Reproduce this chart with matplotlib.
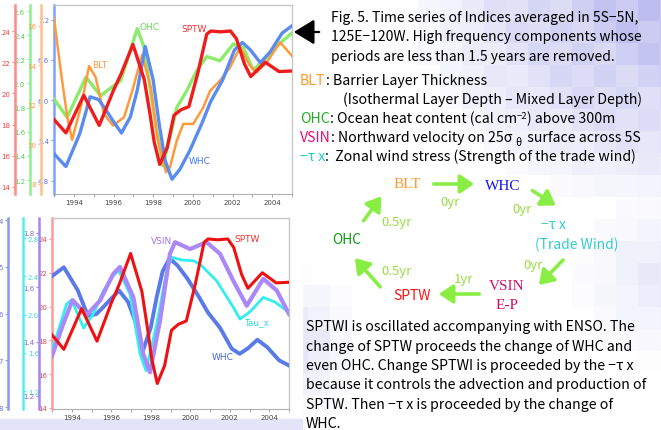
import numpy as np
import matplotlib
matplotlib.use('Agg')
import matplotlib.pyplot as plt
from matplotlib.patches import Rectangle, FancyArrowPatch

# ---------------- data ----------------
years_whc = [1993.0, 1993.6, 1994.3, 1994.82, 1995.25, 1995.6, 1996.0, 1996.4, 1996.85,
             1997.2, 1997.6, 1998.0, 1998.3, 1998.6, 1998.95, 1999.35, 1999.85, 2000.45,
             2000.9, 2001.5, 2002.1, 2002.5, 2002.9, 2003.4, 2003.9, 2004.5, 2005.0]
whc = [5.20, 5.01, 5.50, 6.05, 6.01, 5.86, 5.68, 5.51, 5.75,
       6.15, 6.80, 6.30, 5.65, 5.10, 4.82, 4.97, 5.25, 5.65,
       5.98, 6.30, 6.75, 6.86, 6.75, 6.56, 6.72, 7.00, 7.11]

years_sptw = [1993.0, 1993.6, 1994.5, 1995.28, 1996.0, 1996.4, 1996.98, 1997.55, 1997.85,
              1998.05, 1998.33, 1998.7, 1999.05, 1999.4, 1999.8, 2000.25, 2000.7, 2000.9,
              2001.4, 2001.9, 2002.2, 2002.6, 2002.92, 2003.65, 2004.35, 2005.0]
sptw = [18.33, 17.47, 19.88, 17.95, 20.2, 21.3, 23.14, 20.9, 18.6,
        16.9, 15.45, 16.5, 18.6, 18.95, 19.15, 21.3, 23.8, 24.0,
        23.95, 24.0, 23.5, 21.9, 21.08, 22.0, 21.4, 21.44]

years_ohc = [1993.0, 1993.66, 1994.61, 1995.34, 1996.36, 1996.95, 1997.2, 1997.54, 1998.04,
             1998.48, 1998.85, 1999.19, 1999.69, 2000.2, 2000.7, 2001.37, 2002.04, 2002.55,
             2003.05, 2003.73, 2004.4, 2005.0]
ohc = [1.871, 1.719, 2.053, 1.898, 2.023, 2.327, 2.454, 2.299, 1.747,
       1.318, 1.554, 1.80, 1.94, 2.106, 2.223, 2.188, 2.327, 2.294,
       2.111, 2.217, 2.335, 2.418]

years_blt = [1993.0, 1993.34, 1993.67, 1993.91, 1994.35, 1994.77, 1995.1, 1995.52, 1995.98,
             1996.53, 1996.95, 1997.44, 1997.88, 1998.21, 1998.65, 1998.85, 1999.19, 1999.52,
             2000.02, 2000.53, 2000.87, 2001.37, 2001.88, 2002.38, 2002.88, 2003.22, 2003.73,
             2004.4, 2005.0]
blt = [16.4, 13.74, 11.38, 10.23, 11.88, 13.97, 13.40, 11.54, 10.95,
       11.38, 12.72, 14.53, 12.90, 10.36, 8.59, 8.85, 10.19, 11.04,
       11.04, 11.88, 12.72, 13.23, 13.91, 14.92, 13.99, 13.66, 14.16,
       15.17, 14.48]

years_tau = [1993.0, 1993.74, 1994.0, 1994.6, 1995.09, 1995.6, 1996.1, 1996.37, 1996.95,
             1997.46, 1997.76, 1998.3, 1998.81, 1999.06, 1999.58, 2000.15, 2000.49, 2001.33,
             2002.18, 2002.52, 2003.03, 2003.7, 2004.29, 2005.0]
tau_x = [1.624, 2.11, 2.152, 1.859, 2.005, 2.249, 2.406, 2.46, 2.215,
         1.587, 1.414, 1.90, 2.458, 2.599, 2.57, 2.563, 2.528, 2.354,
         2.076, 1.953, 2.03, 2.18, 2.13, 2.023]

years_vsin = [1993.0, 1993.57, 1994.04, 1994.76, 1995.43, 1996.1, 1996.44, 1997.12, 1997.62,
              1997.96, 1998.47, 1998.97, 1999.23, 1999.99, 2000.83, 2001.51, 2002.18, 2002.86,
              2003.7, 2004.38, 2005.0]
vsin = [1.347, 1.465, 1.553, 1.498, 1.551, 1.649, 1.675, 1.563, 1.355,
        1.287, 1.477, 1.723, 1.766, 1.741, 1.766, 1.723, 1.624, 1.532,
        1.631, 1.588, 1.502]

xticks_major = [1994, 1996, 1998, 2000, 2002, 2004]
xticks_minor = list(range(1993, 2006))

top_sptw_ticks = [14, 16, 18, 20, 22, 24]
top_ohc_ticks = [1.2, 1.4, 1.6, 1.8, 2.0, 2.2, 2.4, 2.6]
top_blt_ticks = [8, 10, 12, 14, 16]
top_whc_ticks = [4.8, 5.4, 6.0, 6.6, 7.2]
bot_whc_ticks = [4, 5, 6, 7, 8]
bot_tau_ticks = [1.2, 1.6, 2.0, 2.4, 2.8]
bot_vsin_ticks = [1.2, 1.4, 1.6, 1.8]
bot_sptw_ticks = [14, 16, 18, 20, 22, 24]

# ---------------- figure ----------------
W, H = 661, 431
fig = plt.figure(figsize=(W / 100, H / 100), dpi=100)
FAM = ['Noto Sans CJK JP', 'DejaVu Sans']


def fx(x):
    return x / W


def fy(y):
    return 1 - y / H


# blocky lavender background
bg = fig.add_axes([0, 0, 1, 1], zorder=-10)
bg.axis('off')
bs = 22
nx, ny = int(np.ceil(W / bs)), int(np.ceil(H / bs))
cx = (np.arange(nx) + 0.5) * bs
cy = (np.arange(ny) + 0.5) * bs
CX, CY = np.meshgrid(cx, cy)
w1 = np.clip(1 - np.hypot((W - CX) / 250, CY / 210), 0, 1) ** 0.8
w2 = 0.45 * np.clip(1 - np.hypot((CX - 300) / 60, (CY - 345) / 75), 0, 1)
w3 = 0.35 * np.clip(1 - np.hypot((W - CX) / 90, (CY - 280) / 90), 0, 1)
ii, jj = np.meshgrid(np.arange(nx), np.arange(ny))
mod = 0.7 + 0.3 * (((ii * 7 + jj * 3) % 5) / 4.0)
wt = np.clip((w1 + w2 + w3) * mod, 0, 1)
lav = np.array([180, 180, 238]) / 255.0
img = np.ones((ny, nx, 3)) * (1 - wt[..., None]) + lav * wt[..., None]
bg.imshow(img, extent=[0, nx * bs, ny * bs, 0], interpolation='nearest', aspect='auto')
bg.set_xlim(0, W)
bg.set_ylim(H, 0)
# white left column (chart images) and light strip below
bg.add_patch(Rectangle((0, 0), 302, 420, color='white', zorder=2))
bg.add_patch(Rectangle((0, 420), 302, 11, color='#e4e4f8', zorder=2))


def style_host(ax, spine_color, label_color, ylim, ticks, fmt):
    ax.set_xlim(1993, 2005)
    ax.set_ylim(*ylim)
    ax.patch.set_alpha(0)
    for s in ['top', 'right']:
        ax.spines[s].set_color('#c8c8c8')
        ax.spines[s].set_linewidth(1.0)
    ax.spines['bottom'].set_color('#b0b0b0')
    ax.spines['left'].set_color(spine_color)
    ax.spines['left'].set_linewidth(1.8)
    ax.set_yticks(ticks)
    ax.set_yticklabels([fmt.format(v) for v in ticks])
    ax.tick_params(axis='y', colors=spine_color, labelcolor=label_color,
                   labelsize=5, length=2, width=0.8, pad=1.5)
    ax.set_xticks(xticks_major)
    ax.set_xticks(xticks_minor, minor=True)
    ax.set_xticklabels([str(v) for v in xticks_major])
    ax.tick_params(axis='x', which='both', colors='#999999', labelcolor='#444444',
                   labelsize=5, length=2, width=0.6, pad=1.5)


def make_twin(host, frac, spine_color, label_color, ylim, ticks, fmt, side='left', invert=False):
    t = host.twinx()
    t.set_ylim(*ylim)
    if invert:
        t.invert_yaxis()
    for s in ['top', 'right', 'bottom', 'left']:
        t.spines[s].set_visible(False)
    t.spines[side].set_visible(True)
    t.spines[side].set_position(('axes', frac))
    t.spines[side].set_color(spine_color)
    t.spines[side].set_linewidth(1.8)
    t.yaxis.set_ticks_position(side)
    t.set_yticks(ticks)
    t.set_yticklabels([fmt.format(v) for v in ticks])
    t.tick_params(axis='y', colors=spine_color, labelcolor=label_color,
                  labelsize=5, length=2, width=0.8, pad=1.5)
    return t


def line_twin(host, ylim, invert=False):
    t = host.twinx()
    t.set_ylim(*ylim)
    if invert:
        t.invert_yaxis()
    t.axis('off')
    return t


# ---------------- top chart ----------------
axT = fig.add_axes([fx(54), fy(195), (292 - 54) / W, (195 - 6) / H])
style_host(axT, '#7fa0ff', '#5577ee', (4.6, 7.42), top_whc_ticks, '{:.1f}')
tO = make_twin(axT, (30 - 54) / 238, '#90ee90', '#55cc55', (1.084, 2.65), top_ohc_ticks, '{:.1f}')
tO.plot(years_ohc, ohc, color='#8cec6a', lw=2.4, solid_joinstyle='round')
tB = make_twin(axT, (41 - 54) / 238, '#ffc090', '#ff9944', (7.49, 17.06), top_blt_ticks, '{:d}')
tB.plot(years_blt, blt, color='#ff9a3c', lw=1.8, solid_joinstyle='round')
tW = line_twin(axT, (4.6, 7.42))
tW.plot(years_whc, whc, color='#5a8cf0', lw=2.4, solid_joinstyle='round')
tS = make_twin(axT, (15 - 54) / 238, '#ff8a8a', '#ee4444', (13.55, 25.67), top_sptw_ticks, '{:d}')
tS.plot(years_sptw, sptw, color='#ee1c1c', lw=2.4, solid_joinstyle='round')

fig.text(fx(150), fy(27), 'OHC', color='#66dd55', fontsize=6.5, ha='center', va='center')
fig.text(fx(100), fy(66), 'BLT', color='#ff9944', fontsize=6.5, ha='center', va='center')
fig.text(fx(194), fy(30), 'SPTW', color='#ee3333', fontsize=6.5, ha='center', va='center')
fig.text(fx(200), fy(162), 'WHC', color='#4477ee', fontsize=6.5, ha='center', va='center')

# ---------------- bottom chart ----------------
axB = fig.add_axes([fx(52), fy(410), (289 - 52) / W, (410 - 219) / H])
style_host(axB, '#ff9a9a', '#ee4444', (13.94, 25.24), bot_sptw_ticks, '{:d}')
bW = make_twin(axB, (8 - 52) / 237, '#8a99ee', '#6677dd', (3.957, 8.04), bot_whc_ticks, '{:d}', invert=True)
bW.plot(years_whc, whc, color='#5a7ae8', lw=2.8, solid_joinstyle='round')
bT = make_twin(axB, (23 - 52) / 237, '#55eeee', '#33dddd', (1.012, 3.01), bot_tau_ticks, '{:.1f}', side='right')
bT.plot(years_tau, tau_x, color='#33eeee', lw=2.0, solid_joinstyle='round')
bV = make_twin(axB, (39 - 52) / 237, '#a088ee', '#8866dd', (1.152, 1.855), bot_vsin_ticks, '{:.1f}')
bV.plot(years_vsin, vsin, color='#aa88f8', lw=3.0, solid_joinstyle='round')
bS = line_twin(axB, (13.94, 25.24))
bS.plot(years_sptw, sptw, color='#ee1111', lw=2.2, solid_joinstyle='round')

fig.text(fx(162), fy(241), 'VSIN', color='#9977ee', fontsize=6.5, ha='center', va='center')
fig.text(fx(247), fy(240), 'SPTW', color='#ee3333', fontsize=6.5, ha='center', va='center')
fig.text(fx(257), fy(323), 'Tau_x', color='#33dddd', fontsize=6.5, ha='center', va='center')
fig.text(fx(223), fy(358), 'WHC', color='#4466ee', fontsize=6.5, ha='center', va='center')

# ---------------- arrow pointing to chart ----------------
fig.patches.append(FancyArrowPatch((fx(322), fy(33)), (fx(291), fy(33)), transform=fig.transFigure,
                                   arrowstyle='-|>,head_length=0.9,head_width=0.55',
                                   mutation_scale=14, lw=1.6, color='black'))

# ---------------- right-hand text ----------------
renderer = fig.canvas.get_renderer()
FS = 10.2


def chain(x, y, segs):
    for s, color, size, dy in segs:
        t = fig.text(fx(x), fy(y + dy), s, color=color, fontsize=size, family=FAM,
                     ha='left', va='baseline')
        x += t.get_window_extent(renderer).width


caption = ["Fig. 5. Time series of Indices averaged in 5S\u22125N,",
           "125E\u2212120W. High frequency components whose",
           "periods are less than 1.5 years are removed."]
for k, line in enumerate(caption):
    fig.text(fx(331), fy(22 + 19.3 * k), line, fontsize=10.0, family=FAM, color='black',
             ha='left', va='baseline')

chain(300, 85, [("BLT", '#ff9922', FS, 0), (": Barrier Layer Thickness", 'black', FS, 0)])
chain(343, 104, [("(Isothermal Layer Depth \u2013 Mixed Layer Depth)", 'black', FS, 0)])
chain(300, 123, [("OHC", '#22aa22', FS, 0), (": Ocean heat content (cal cm", 'black', FS, 0),
                 ("\u22122", 'black', 6.8, -4), (") above 300m", 'black', FS, 0)])
chain(300, 142, [("VSIN", '#dd1177', FS, 0), (": Northward velocity on 25\u03c3 ", 'black', FS, 0),
                 ("\u03b8", 'black', 7.5, 4), ("  surface across 5S", 'black', FS, 0)])
chain(300, 161, [("\u2212\u03c4 x", '#22cccc', FS, 0),
                 (":  Zonal wind stress (Strength of the trade wind)", 'black', FS, 0)])

# ---------------- cycle diagram ----------------
SERIF = ['Liberation Serif', 'DejaVu Serif']
YR = '#99dd44'
fig.text(fx(407), fy(185), 'BLT', color='#ff9933', fontsize=11, family=SERIF, ha='center', va='center')
fig.text(fx(503), fy(186.5), 'WHC', color='#1111ee', fontsize=11, family=SERIF, ha='center', va='center')
fig.text(fx(553), fy(225), '\u2212\u03c4 x', color='#33cccc', fontsize=10, family=FAM, ha='center', va='center')
fig.text(fx(577), fy(245), '(Trade Wind)', color='#33cccc', fontsize=10, family=FAM, ha='center', va='center')
fig.text(fx(507), fy(287), 'VSIN', color='#cc1166', fontsize=11, family=SERIF, ha='center', va='center')
fig.text(fx(507), fy(306), 'E-P', color='#cc1166', fontsize=11, family=SERIF, ha='center', va='center')
fig.text(fx(412), fy(296), 'SPTW', color='#ff1111', fontsize=10, family=FAM, ha='center', va='center')
fig.text(fx(347), fy(240), 'OHC', color='#119911', fontsize=10, family=FAM, ha='center', va='center')

for (x, y, s) in [(450, 203, '0yr'), (522, 210, '0yr'), (533, 265, '0yr'),
                  (463, 279, '1yr'), (397, 272, '0.5yr'), (397, 223, '0.5yr')]:
    fig.text(fx(x), fy(y), s, color=YR, fontsize=9.5, family=FAM, ha='center', va='center')

arrows = [((431, 185), (477, 185)), ((530, 190), (558, 208)), ((565, 259), (537, 288)),
          ((482, 295), (436, 295)), ((382, 290), (353, 257)), ((362, 224), (383, 195))]
for (a, b) in arrows:
    fig.patches.append(FancyArrowPatch((fx(a[0]), fy(a[1])), (fx(b[0]), fy(b[1])),
                                       transform=fig.transFigure,
                                       arrowstyle='-|>,head_length=0.6,head_width=0.4',
                                       mutation_scale=14, lw=2.6, color='#88ee44'))

# ---------------- paragraph ----------------
para = ["SPTWI is oscillated accompanying with ENSO. The",
        "change of SPTW proceeds the change of WHC and",
        "even OHC. Change SPTWI is proceeded by the \u2212\u03c4 x",
        "because it controls the advection and production of",
        "SPTW. Then \u2212\u03c4 x is proceeded by the change of",
        "WHC."]
for k, line in enumerate(para):
    fig.text(fx(306), fy(331 + 19.5 * k), line, fontsize=FS, family=FAM, color='black',
             ha='left', va='baseline')

fig.savefig('out.png', dpi=100)
